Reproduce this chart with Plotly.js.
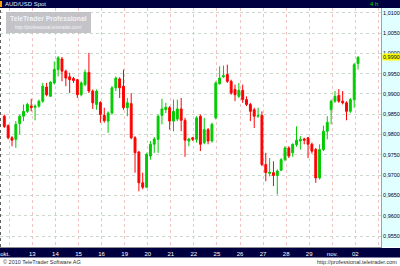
<!DOCTYPE html>
<html><head><meta charset="utf-8">
<script src="https://cdn.plot.ly/plotly-3.0.1.min.js"></script>
<style>html,body{margin:0;padding:0;background:#fff}#c{width:400px;height:266px}</style>
</head><body><div id="c"></div>
<script>
const openP = [0.9845,0.9822,0.9792,0.9788,0.9827,0.9845,0.9857,0.9870,0.9867,0.9870,
0.9882,0.9917,0.9894,0.9927,0.9960,0.9986,0.9956,0.9942,0.9938,0.9935,
0.9898,0.9923,0.9953,0.9907,0.9874,0.9879,0.9847,0.9833,0.9853,0.9915,
0.9937,0.9919,0.9866,0.9876,0.9792,0.9757,0.9681,0.9670,0.9747,0.9776,
0.9788,0.9847,0.9861,0.9866,0.9833,0.9838,0.9863,0.9835,0.9784,0.9792,
0.9788,0.9845,0.9780,0.9812,0.9784,0.9841,0.9925,0.9942,0.9948,0.9931,
0.9911,0.9894,0.9909,0.9886,0.9874,0.9861,0.9845,0.9847,0.9726,0.9704,
0.9706,0.9699,0.9712,0.9738,0.9767,0.9755,0.9775,0.9784,0.9789,0.9792,
0.9776,0.9763,0.9693,0.9763,0.9808,0.9861,0.9882,0.9896,0.9882,0.9878,
0.9857,0.9886,0.9975];
const highP = [0.9849,0.9825,0.9796,0.9833,0.9849,0.9874,0.9878,0.9888,0.9874,0.9886,
0.9927,0.9927,0.9931,0.9980,0.9993,0.9991,0.9960,0.9952,0.9942,0.9937,
0.9931,0.9960,1.0001,0.9911,0.9911,0.9882,0.9866,0.9857,0.9919,0.9943,
0.9941,0.9960,0.9890,0.9902,0.9796,0.9759,0.9706,0.9755,0.9784,0.9794,
0.9849,0.9888,0.9878,0.9870,0.9886,0.9886,0.9890,0.9841,0.9792,0.9794,
0.9845,0.9849,0.9841,0.9816,0.9829,0.9931,0.9968,0.9970,0.9972,0.9935,
0.9923,0.9927,0.9923,0.9894,0.9878,0.9866,0.9866,0.9857,0.9755,0.9742,
0.9734,0.9714,0.9742,0.9771,0.9771,0.9778,0.9820,0.9796,0.9792,0.9794,
0.9780,0.9767,0.9776,0.9822,0.9845,0.9886,0.9907,0.9912,0.9907,0.9882,
0.9890,0.9976,0.9993];
const lowP = [0.9816,0.9788,0.9771,0.9767,0.9800,0.9833,0.9853,0.9857,0.9835,0.9866,
0.9878,0.9894,0.9894,0.9923,0.9943,0.9931,0.9919,0.9902,0.9927,0.9890,
0.9894,0.9919,0.9902,0.9863,0.9861,0.9829,0.9829,0.9804,0.9849,0.9907,
0.9890,0.9861,0.9845,0.9788,0.9706,0.9660,0.9665,0.9669,0.9738,0.9755,
0.9755,0.9825,0.9853,0.9812,0.9808,0.9833,0.9808,0.9745,0.9771,0.9784,
0.9780,0.9759,0.9776,0.9776,0.9780,0.9837,0.9923,0.9939,0.9927,0.9898,
0.9882,0.9890,0.9878,0.9870,0.9833,0.9816,0.9841,0.9722,0.9685,0.9697,
0.9673,0.9652,0.9710,0.9734,0.9742,0.9745,0.9770,0.9763,0.9776,0.9742,
0.9753,0.9681,0.9689,0.9759,0.9788,0.9825,0.9878,0.9878,0.9874,0.9835,
0.9853,0.9866,0.9960];
const closeP = [0.9820,0.9792,0.9786,0.9825,0.9845,0.9857,0.9874,0.9866,0.9870,0.9882,
0.9919,0.9898,0.9929,0.9960,0.9989,0.9956,0.9939,0.9935,0.9933,0.9898,
0.9927,0.9953,0.9907,0.9878,0.9907,0.9849,0.9834,0.9853,0.9915,0.9939,
0.9915,0.9866,0.9878,0.9792,0.9755,0.9681,0.9670,0.9751,0.9776,0.9789,
0.9845,0.9863,0.9867,0.9833,0.9857,0.9863,0.9835,0.9786,0.9789,0.9788,
0.9841,0.9776,0.9812,0.9784,0.9825,0.9927,0.9939,0.9945,0.9931,0.9902,
0.9898,0.9909,0.9886,0.9874,0.9857,0.9845,0.9847,0.9726,0.9706,0.9707,
0.9699,0.9710,0.9738,0.9767,0.9747,0.9776,0.9786,0.9788,0.9786,0.9776,
0.9759,0.9693,0.9763,0.9808,0.9830,0.9882,0.9894,0.9882,0.9878,0.9857,
0.9886,0.9972,0.9990];
const dayLabels = ['okt.','13','14','15','16','19','20','21','22','25','26','27','28','29','nov.','02'];
const dayPos = [0.2,7.3,13.3,19.3,25.3,31.3,37.3,43.3,49.3,55.3,61.3,67.3,73.3,79.3,85.3,91.3];
const lastPrice = 0.9990;

const idx = openP.map((_, i) => i);
const W = 381, H = 239;
const px = v => v / W;
const py = v => (247 - v) / H;
const F = 'Liberation Sans, Arial, sans-serif';

const trace = {
  type: 'candlestick', x: idx, open: openP, high: highP, low: lowP, close: closeP,
  increasing: {line: {color: '#00cc00', width: 1}, fillcolor: '#00cc00'},
  decreasing: {line: {color: '#ff0000', width: 1}, fillcolor: '#ff0000'},
  whiskerwidth: 0, hoverinfo: 'skip', showlegend: false
};

const layout = {
  width: 400, height: 266,
  margin: {l: 0, r: 19, t: 8, b: 19, pad: 0},
  paper_bgcolor: '#ffffff', plot_bgcolor: '#ffffff',
  separators: ',.',
  showlegend: false, hovermode: false,
  font: {family: F, size: 5.5, color: '#000030'},
  xaxis: {
    range: [-1.12, 97.97], fixedrange: true,
    rangeslider: {visible: false},
    tickmode: 'array', tickvals: dayPos, ticktext: dayLabels,
    ticks: '', showgrid: false, zeroline: false,
    showline: true, linecolor: '#909090', linewidth: 1,
    tickfont: {family: F, size: 6, color: '#ffffff'},
    ticklabelstandoff: 1,
    minor: {tick0: 7.3, dtick: 6, showgrid: true, gridcolor: '#f0c4c4', griddash: 'dot', gridwidth: 1, ticks: ''}
  },
  yaxis: {
    side: 'right', range: [0.95229, 1.01116], fixedrange: true,
    tick0: 0.955, dtick: 0.005, tickformat: '.4f',
    ticks: '', showgrid: true, gridcolor: '#cdd8cd', griddash: 'dot', gridwidth: 1,
    zeroline: false, showline: true, linecolor: '#a0a0a0', linewidth: 1,
    tickfont: {family: F, size: 5.5, color: '#000030'},
    ticklabelstandoff: 0
  },
  shapes: [
    {type: 'rect', xref: 'paper', yref: 'paper', x0: 1, x1: px(400), y0: 0, y1: 1, fillcolor: '#e0ffff', line: {width: 0}, layer: 'below'},
    {type: 'rect', xref: 'paper', yref: 'paper', x0: 0, x1: px(400), y0: 1, y1: py(0), fillcolor: '#000040', line: {width: 0}, layer: 'below'},
    {type: 'rect', xref: 'paper', yref: 'paper', x0: 0, x1: px(2), y0: py(7), y1: py(1), fillcolor: '#ffa000', line: {width: 0}},
    {type: 'rect', xref: 'paper', yref: 'paper', x0: 0, x1: px(400), y0: py(257.5), y1: py(248), fillcolor: '#000040', line: {width: 0}, layer: 'below'},
    {type: 'rect', xref: 'paper', yref: 'paper', x0: px(6), x1: px(91), y0: py(33), y1: py(12), fillcolor: 'rgba(185,185,190,0.85)', line: {width: 0}},
    {type: 'line', xref: 'paper', yref: 'paper', x0: px(0.5), x1: px(0.5), y0: 0, y1: 1, line: {color: '#606060', width: 1, dash: 'dot'}}
  ],
  annotations: [
    {xref: 'paper', yref: 'paper', x: px(3), y: py(4), xanchor: 'left', yanchor: 'middle', showarrow: false,
     text: 'AUD/USD Spot', font: {family: F, size: 6, color: '#d8f0ff'}},
    {xref: 'paper', yref: 'paper', x: px(374), y: py(4), xanchor: 'center', yanchor: 'middle', showarrow: false,
     text: '4 h', font: {family: F, size: 6, color: '#00dd00'}},
    {xref: 'paper', yref: 'paper', x: px(48.5), y: py(19), xanchor: 'center', yanchor: 'middle', showarrow: false,
     text: '<b>TeleTrader Professional</b>', font: {family: F, size: 6.8, color: '#eef2fa'}},
    {xref: 'paper', yref: 'paper', x: px(48.5), y: py(27.5), xanchor: 'center', yanchor: 'middle', showarrow: false,
     text: 'http://professional.teletrader.com/', font: {family: F, size: 4.5, color: '#f4f6fb'}},
    {xref: 'paper', yref: 'paper', x: px(1), y: py(262), xanchor: 'left', yanchor: 'middle', showarrow: false,
     text: '© 2010 TeleTrader Software AG', font: {family: F, size: 5.5, color: '#303030'}},
    {xref: 'paper', yref: 'paper', x: px(399), y: py(262), xanchor: 'right', yanchor: 'middle', showarrow: false,
     text: 'http://professional.teletrader.com', font: {family: F, size: 5.5, color: '#303030'}},
    {xref: 'paper', yref: 'y', x: 1, y: lastPrice, xanchor: 'left', yanchor: 'middle', xshift: 0.5, showarrow: false,
     text: lastPrice.toFixed(4).replace('.', ','), bgcolor: '#ffff00', borderpad: 0, font: {family: F, size: 5.5, color: '#000030'}}
  ]
};

Plotly.newPlot('c', [trace], layout, {staticPlot: true, displayModeBar: false});
</script></body></html>
